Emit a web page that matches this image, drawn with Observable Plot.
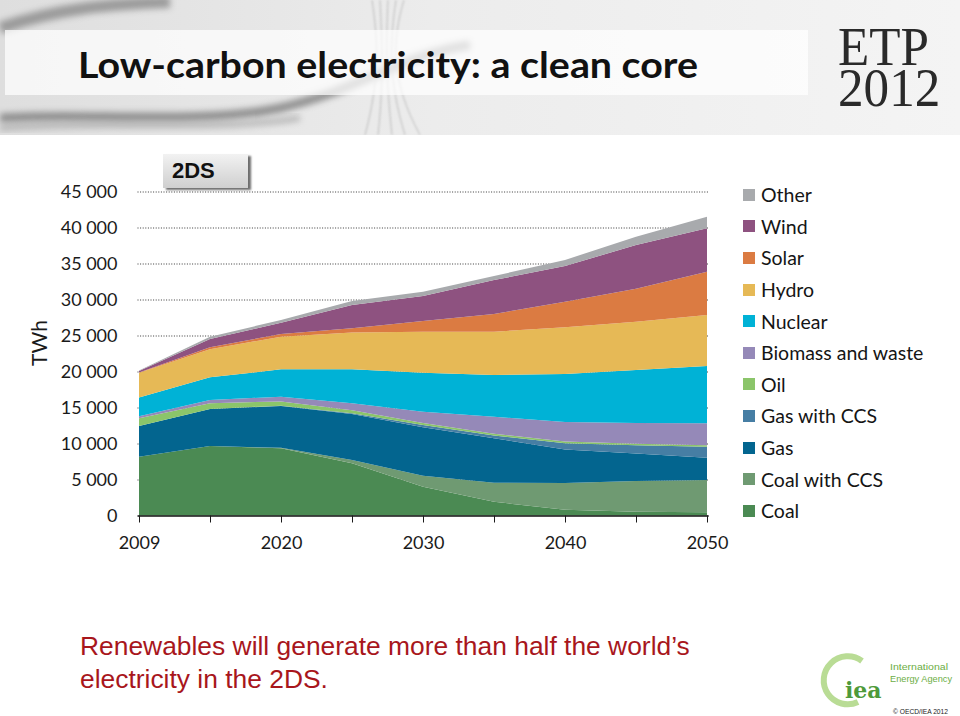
<!DOCTYPE html>
<html>
<head>
<meta charset="utf-8">
<script src="https://cdn.jsdelivr.net/npm/d3@7"></script>
<script src="https://cdn.jsdelivr.net/npm/@observablehq/plot@0.6"></script>
<style>
html,body{margin:0;padding:0;background:#fff;}
#page{position:relative;width:960px;height:716px;overflow:hidden;background:#fff;font-family:Lato,"Open Sans",sans-serif;}
#header{position:absolute;left:0;top:0;width:960px;height:135px;}
#etp{position:absolute;left:838px;top:26px;line-height:41px;font-family:"Liberation Serif",serif;font-size:55px;color:#2a2a2a;white-space:pre;transform-origin:0 0;transform:scaleX(0.93);}
#chart{position:absolute;left:0;top:150px;}
#badge{position:absolute;left:163px;top:154px;width:85px;height:34px;background:linear-gradient(#f2f2f2,#cfcfcf);box-shadow:3px 2px 2px #6e6e6e;font-family:"Liberation Sans",Arial,sans-serif;font-weight:bold;font-size:22px;line-height:34px;color:#111;box-sizing:border-box;padding-left:9px;}
#ylabel{position:absolute;left:38px;top:343px;transform:translate(-50%,-50%) rotate(-90deg);font-family:Lato,sans-serif;font-size:21px;color:#1a1a1a;white-space:nowrap;}
#legend{position:absolute;left:743px;top:179px;font-family:Lato,sans-serif;font-size:19.5px;color:#151515;}
.row{height:31.6px;display:flex;align-items:center;white-space:nowrap;}
.sw{width:12px;height:12px;margin-right:6px;flex:none;}
#caption{position:absolute;left:80px;top:630px;font-family:"Liberation Sans",Arial,sans-serif;font-size:26.4px;line-height:33px;color:#a8161c;}
#logo{position:absolute;left:816px;top:645px;overflow:visible;}
</style>
</head>
<body>
<div id="page">
  <svg id="header" width="960" height="135" viewBox="0 0 960 135">
    <defs>
      <linearGradient id="hg" x1="0" y1="0" x2="1" y2="0">
        <stop offset="0" stop-color="#dedede"/>
        <stop offset="0.45" stop-color="#ececec"/>
        <stop offset="1" stop-color="#f4f4f4"/>
      </linearGradient>
      <filter id="bl" x="-20%" y="-50%" width="140%" height="200%"><feGaussianBlur stdDeviation="3"/></filter>
      <filter id="bl2"><feGaussianBlur stdDeviation="1.2"/></filter>
    </defs>
    <rect x="0" y="0" width="960" height="135" fill="url(#hg)"/>
    <path d="M0,28 C60,8 110,4 170,2" stroke="#8a8a8a" stroke-width="12" fill="none" filter="url(#bl)" opacity="0.8"/>
    <path d="M0,118 C80,112 200,125 280,108 C360,90 400,55 470,45" stroke="#7a7a7a" stroke-width="9" fill="none" filter="url(#bl)" opacity="0.8"/>
    <path d="M0,128 C100,120 220,132 300,118" stroke="#9a9a9a" stroke-width="6" fill="none" filter="url(#bl)" opacity="0.6"/>
    <g stroke="#b5b5b5" stroke-width="1" fill="none" filter="url(#bl2)" opacity="0.9">
      <path d="M372,0 C378,40 380,80 365,135"/>
      <path d="M380,0 C382,40 384,80 378,135"/>
      <path d="M388,0 C386,40 386,80 392,135"/>
      <path d="M396,0 C390,40 388,80 405,135"/>
      <path d="M404,0 C392,40 390,80 420,135"/>
    </g>
    <rect x="5" y="30" width="803" height="65" fill="#ffffff" opacity="0.72"/>
    <text x="78" y="78" font-family="Lato, sans-serif" font-weight="bold" font-size="36" fill="#111" textLength="620" lengthAdjust="spacingAndGlyphs">Low-carbon electricity: a clean core</text>
  </svg>
  <div id="etp">ETP
2012</div>
  <div id="chart"></div>
  <div id="badge">2DS</div>
  <div id="ylabel">TWh</div>
  <div id="legend"></div>
  <div id="caption">Renewables will generate more than half the world’s<br>electricity in the 2DS.</div>
  <svg id="logo" width="140" height="71" viewBox="0 0 140 71">
    <path d="M46,16 A24,24 0 1 0 42,57" stroke="#b9dc95" stroke-width="6" fill="none"/>
    <text x="29" y="53" font-family="'DejaVu Serif', serif" font-weight="bold" font-size="22" fill="#4e9a3a">iea</text>
    <text font-family="'Liberation Sans',sans-serif" font-size="9.5" fill="#6cae45"><tspan x="74" y="25" textLength="58" lengthAdjust="spacingAndGlyphs">International</tspan><tspan x="74" y="37" textLength="62" lengthAdjust="spacingAndGlyphs">Energy Agency</tspan></text>
    <text x="77" y="69" font-family="'Liberation Sans',sans-serif" font-size="7.5" fill="#222" textLength="55" lengthAdjust="spacingAndGlyphs">© OECD/IEA 2012</text>
  </svg>
</div>
<script>
// ---- data (TWh) ----
const years = [2009, 2015, 2020, 2025, 2030, 2035, 2040, 2045, 2050];
const labeledYears = [2009, 2020, 2030, 2040, 2050];
const yTicks = [0, 5000, 10000, 15000, 20000, 25000, 30000, 35000, 40000, 45000];

const seriesNames = ["Coal", "Coal with CCS", "Gas", "Gas with CCS", "Oil", "Biomass and waste", "Nuclear", "Hydro", "Solar", "Wind", "Other"];
const seriesColors = ["#4b8a53", "#6f9a72", "#03658f", "#467ea4", "#8bc56a", "#9589b8", "#00b2d6", "#e6b956", "#db7b42", "#8e5280", "#a8aaad"];

const coal    = [8170, 9650, 9330, 7250, 4000, 1900, 800, 530, 450];
const coalCCS = [0, 0, 70, 450, 1530, 2650, 3700, 4260, 4480];
const gas     = [4260, 5150, 5800, 6400, 6720, 6170, 4650, 3810, 3100];
const gasCCS  = [0, 0, 50, 100, 320, 380, 900, 1150, 1530];
const oil     = [1070, 800, 600, 420, 280, 260, 230, 200, 180];
const biomass = [300, 440, 650, 980, 1570, 2360, 2720, 2900, 3060];
const nuclear = [2600, 3150, 3800, 4700, 5410, 5790, 6650, 7350, 7960];
const hydro   = [3430, 3910, 4530, 5100, 5700, 6020, 6500, 6700, 7090];
const solar   = [30, 260, 370, 600, 1470, 2460, 3550, 4600, 6010];
const wind    = [210, 1140, 1580, 3240, 3490, 4710, 4950, 6070, 6040];
const other   = [80, 330, 370, 560, 590, 560, 840, 1150, 1600];

const seriesValues = [coal, coalCCS, gas, gasCCS, oil, biomass, nuclear, hydro, solar, wind, other];

const rows = [];
years.forEach((yr, i) => {
  seriesNames.forEach((s, k) => rows.push({year: yr, source: s, value: seriesValues[k][i]}));
});

const fmt = d => d3.format(",")(d).replace(/,/g, " ");

const chart = Plot.plot({
  width: 730,
  height: 420,
  marginLeft: 137.5,
  marginRight: 21.3,
  marginTop: 41.5,
  marginBottom: 54.5,
  style: {fontFamily: "Lato, sans-serif", fontSize: "18px", color: "#1a1a1a", background: "transparent", overflow: "visible"},
  x: {type: "point", domain: years, padding: 0, label: null},
  y: {domain: [0, 45000], label: null},
  color: {domain: seriesNames, range: seriesColors},
  marks: [
    Plot.ruleY(yTicks.filter(d => d > 0), {stroke: "#3a3a3a", strokeDasharray: "1,1.6", strokeWidth: 1.1}),
    Plot.areaY(rows, {x: "year", y: "value", z: "source", fill: "source", order: seriesNames, curve: "linear"}),
    Plot.ruleY([0], {stroke: "#111", strokeWidth: 1.5}),
    Plot.axisX({ticks: years, tickSize: 7, tickPadding: 13, tickFormat: d => labeledYears.includes(d) ? String(d) : "", fontSize: 18}),
    Plot.axisY({ticks: yTicks, tickSize: 0, tickPadding: 20.5, tickFormat: fmt, fontSize: 18})
  ]
});
document.getElementById("chart").appendChild(chart);

// legend (top-down: reverse of stacking order)
const legend = document.getElementById("legend");
seriesNames.slice().reverse().forEach(name => {
  const i = seriesNames.indexOf(name);
  const row = document.createElement("div");
  row.className = "row";
  const sw = document.createElement("span");
  sw.className = "sw";
  sw.style.background = seriesColors[i];
  const lab = document.createElement("span");
  lab.textContent = name;
  row.appendChild(sw);
  row.appendChild(lab);
  legend.appendChild(row);
});
</script>
</body>
</html>
